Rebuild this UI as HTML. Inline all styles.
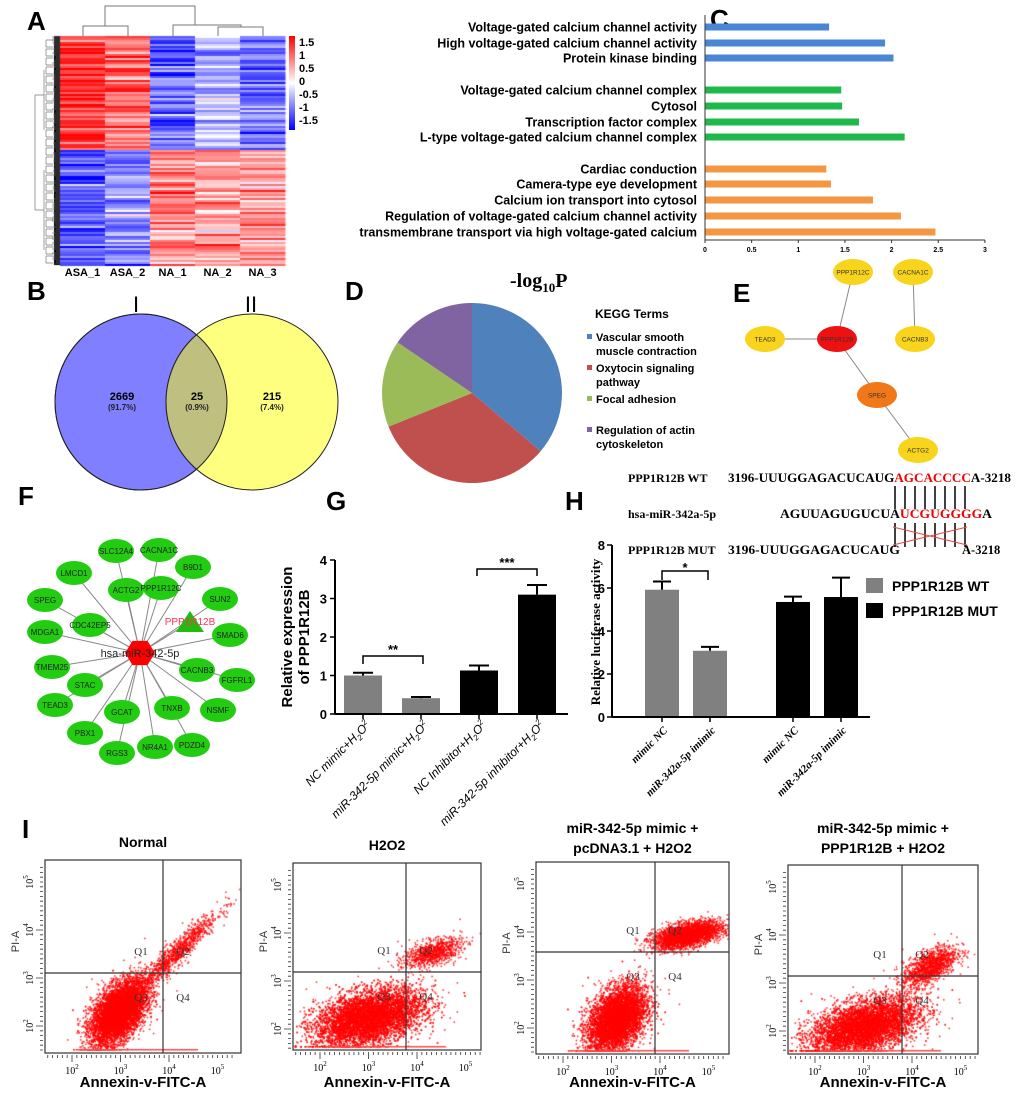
<!DOCTYPE html>
<html><head><meta charset="utf-8"><style>
html,body{margin:0;padding:0;background:#fff;}
#wrap{position:relative;width:1020px;height:1099px;overflow:hidden;font-family:"Liberation Sans",Arial,sans-serif;}
canvas{position:absolute;left:0;top:0;}
svg{position:absolute;left:0;top:0;}
</style></head><body>
<div id="wrap">
<canvas id="cv" width="1020" height="1099"></canvas>
<svg id="sv" width="1020" height="1099" xmlns="http://www.w3.org/2000/svg" font-family="Liberation Sans, Arial, sans-serif"></svg>
</div>
<script>
// ---------- Panel C data ----------
const goTerms=["Voltage-gated calcium channel activity","High voltage-gated calcium channel activity","Protein kinase binding","Voltage-gated calcium channel complex","Cytosol","Transcription factor complex","L-type voltage-gated calcium channel complex","Cardiac conduction","Camera-type eye development","Calcium ion transport into cytosol","Regulation of voltage-gated calcium channel activity","transmembrane transport via high voltage-gated calcium"];
const goValues=[1.33,1.93,2.02,1.46,1.47,1.65,2.14,1.30,1.35,1.80,2.10,2.47];
const goGroup=[0,0,0,1,1,1,1,2,2,2,2,2];
const goTicks=[0,0.5,1,1.5,2,2.5,3];
// ---------- Panel D data ----------
const keggTerms=["Vascular smooth muscle contraction","Oxytocin signaling pathway","Focal adhesion","Regulation of actin cytoskeleton"];
const keggValues=[36.2,32.7,15.6,15.5];
// ---------- Panel G data ----------
const gCats=["NC mimic+H","miR-342-5p mimic+H","NC Inhibitor+H","miR-342-5p inhibitor+H"];
const gValues=[1.0,0.41,1.13,3.1];
const gErrors=[0.07,0.03,0.13,0.25];
const gTicks=[0,1,2,3,4];
// ---------- Panel H data ----------
const hCats=["mimic NC","miR-342a-5p imimic","mimic NC","miR-342a-5p imimic"];
const hValues=[5.92,3.08,5.35,5.58];
const hErrors=[0.38,0.18,0.25,0.9];
const hTicks=[0,2,4,6,8];
// ---------- Panel A block means (rows cluster x sample) ----------
const hmSamples=["ASA_1","ASA_2","NA_1","NA_2","NA_3"];
const hmTopMeans=[1.2,0.9,-0.9,-0.5,-0.9];
const hmBottomMeans=[-1.0,-0.7,0.7,0.7,0.6];
const hmTicks=["1.5","1","0.5","0","-0.5","-1","-1.5"];

const NS="http://www.w3.org/2000/svg";
const sv=document.getElementById('sv');
const ctx=document.getElementById('cv').getContext('2d');
function el(tag,attrs,parent,text){const e=document.createElementNS(NS,tag);for(const k in attrs)e.setAttribute(k,attrs[k]);if(text!==undefined)e.textContent=text;(parent||sv).appendChild(e);return e;}
function txt(x,y,s,size,opts,parent){opts=opts||{};const a={x:x,y:y,'font-size':size,fill:opts.fill||'#000'};if(opts.bold)a['font-weight']='bold';if(opts.anchor)a['text-anchor']=opts.anchor;if(opts.family)a['font-family']=opts.family;if(opts.style)a['font-style']=opts.style;if(opts.transform)a.transform=opts.transform;if(opts.tl){a.textLength=opts.tl;a.lengthAdjust='spacingAndGlyphs';}return el('text',a,parent,s);}
let seed=12345;function rnd(){seed=(seed*1103515245+12345)&0x7fffffff;return seed/0x7fffffff;}
function gauss(){let u=rnd()||1e-6,v=rnd();return Math.sqrt(-2*Math.log(u))*Math.cos(2*Math.PI*v);}

[["A",27,30],["B",27,300],["C",710,28],["D",345,300],["E",733,302],["F",18,505],["G",326,510],["H",565,510],["I",22,838]].forEach(p=>{const t=txt(p[1],p[2],p[0],26,{bold:true});});

// ================= Panel A heatmap =================
(function(){
 const L=60,T=36,W=225,H=229,split=150;
 function col(v){v=Math.max(-1.6,Math.min(1.6,v))/1.6;let r,gg,b;if(v>=0){r=255;gg=b=Math.round(255*(1-v));}else{b=255;r=gg=Math.round(255*(1+v));}return `rgb(${r},${gg},${b})`;}
 const cw=W/hmSamples.length;
 for(let y=T;y<T+H;y+=2){
  const top=y<split;
  for(let c=0;c<5;c++){
   const m=(top?hmTopMeans:hmBottomMeans)[c];
   const v=m+gauss()*0.35;
   ctx.fillStyle=col(v);ctx.fillRect(L+c*cw,y,cw+0.5,2);
  }
 }
 hmSamples.forEach((s,i)=>{const t=txt(L+cw*i+cw/2,276,s,11,{bold:true,anchor:'middle'});});
 const grad=el('linearGradient',{id:'cb',x1:0,y1:0,x2:0,y2:1},el('defs',{},sv));
 el('stop',{offset:'0',"stop-color":'#ff0000'},grad);el('stop',{offset:'0.5',"stop-color":'#ffffff'},grad);el('stop',{offset:'1',"stop-color":'#0000ff'},grad);
 const cb=el('rect',{x:289,y:36,width:6,height:94,fill:'url(#cb)'},sv);
 hmTicks.forEach((s,i)=>{const t=txt(299,46+i*13,s,11,{bold:true});});
 const dg=el('g',{stroke:'#777','stroke-width':1,fill:'none'},sv);
 el('path',{d:'M83,36V26H128V36 M105,26V6H195V25 M173,36V25H241V27 M218,36V27H263V36'},dg);
 const lg=el('g',{stroke:'#777','stroke-width':0.7,fill:'none'},sv);
 let d='M35,95V210 M35,95H44 M35,210H44 M44,70V130 M44,170V250';
 for(let y=37;y<265;y+=2){d+=` M${52+rnd()*4},${y}H60`;}
 for(let y=40;y<265;y+=9){d+=` M46,${y}V${y+7} M46,${y}H53 M46,${y+7}H53`;}
 el('path',{d:d},lg);
 ctx.fillStyle='#000';ctx.fillRect(54,36,6,229);
})();

// ================= Panel C =================
(function(){
 const x0=705,xs=93.3,colors=['#4a86d6','#1fb84a','#f59640'];
 const ys=[27,43,58,90,106,122,137,169,184,200,216,232];
 const g=el('g',{},sv);
 const X=v=>x0+v*xs;
 goValues.forEach((v,i)=>{const r=el('rect',{x:X(0),y:ys[i]-3.5,width:X(v)-X(0),height:7,fill:colors[goGroup[i]]},g);
  const t=txt(697,ys[i]+4.5,goTerms[i],12.5,{bold:true,anchor:'end'},g);});
 el('line',{x1:x0,y1:15,x2:x0,y2:240,stroke:'#333','stroke-width':1},g);
 el('line',{x1:x0,y1:240,x2:X(3),y2:240,stroke:'#333','stroke-width':1},g);
 goTicks.forEach(t=>{el('line',{x1:X(t),y1:240,x2:X(t),y2:243,stroke:'#333'},g);const tt=txt(X(t),252,String(t),7,{bold:true,anchor:'middle'},g);});
})();

// ================= Panel B Venn =================
(function(){
 const g=el('g',{},sv);
 const c1=el('ellipse',{cx:141,cy:402,rx:86,ry:88,fill:'#7f7fff',stroke:'#222','stroke-width':1},g);
 const c2=el('ellipse',{cx:252,cy:402,rx:86,ry:88,fill:'#ffff7f',stroke:'#222','stroke-width':1},g);
 const cp=el('clipPath',{id:'cl1'},el('defs',{},g));
 el('ellipse',{cx:141,cy:402,rx:86,ry:88},cp);
 el('ellipse',{cx:252,cy:402,rx:86,ry:88,fill:'#bfbf7f',stroke:'#222','stroke-width':1,'clip-path':'url(#cl1)'},g);
 el('ellipse',{cx:141,cy:402,rx:86,ry:88,fill:'none',stroke:'#222','stroke-width':1},g);
 [["2669","(91.7%)",122],["25","(0.9%)",197],["215","(7.4%)",272]].forEach(a=>{txt(a[2],400,a[0],11,{bold:true,anchor:'middle'},g);txt(a[2],410,a[1],8,{bold:true,anchor:'middle',fill:'#222'},g);});
 txt(136,312,"I",22,{anchor:'middle'},g);txt(251,312,"II",22,{anchor:'middle'},g);
})();

// ================= Panel D pie =================
(function(){
 const cx=472,cy=393,r=90,cols=['#4f81bd','#c0504d','#9bbb59','#8064a2'];
 const g=el('g',{},sv);
 const tot=keggValues.reduce((a,b)=>a+b,0);let a0=0;
 keggValues.forEach((v,i)=>{const a1=a0+v/tot*2*Math.PI;const p=(a)=>[cx+r*Math.sin(a),cy-r*Math.cos(a)];const s=p(a0),e=p(a1);
  const path=el('path',{d:`M${cx},${cy}L${s[0]},${s[1]}A${r},${r} 0 ${a1-a0>Math.PI?1:0} 1 ${e[0]},${e[1]}Z`,fill:cols[i]},g);a0=a1;});
 const t=el('text',{x:510,y:287,'font-size':20,'font-weight':'bold','font-family':'Liberation Serif, serif'},g);t.innerHTML='-log<tspan font-size="13" dy="5">10</tspan><tspan dy="-5">P</tspan>';
 txt(595,318,"KEGG Terms",12,{bold:true},g);
 const lines=[["Vascular smooth","muscle contraction"],["Oxytocin signaling","pathway"],["Focal adhesion"],["Regulation of actin","cytoskeleton"]];
 const ly=[341,372,403,434];
 lines.forEach((l,i)=>{const sq=el('rect',{x:587,y:ly[i]-7,width:5,height:5,fill:cols[i]},g);l.forEach((s,j)=>txt(596,ly[i]+j*14,s,11,{bold:true},g));});
})();

// ================= Panel E network =================
(function(){
 const g=el('g',{},sv);
 const N={PPP1R12C:[853,272,'#f8d41c'],CACNA1C:[913,272,'#f8d41c'],TEAD3:[765,339,'#f8d41c'],PPP1R12B:[837,339,'#ee1111'],CACNB3:[915,339,'#f8d41c'],SPEG:[877,395,'#f07818'],ACTG2:[918,450,'#f8d41c']};
 [["PPP1R12C","PPP1R12B"],["CACNA1C","CACNB3"],["TEAD3","PPP1R12B"],["PPP1R12B","SPEG"],["SPEG","ACTG2"]].forEach(e=>el('line',{x1:N[e[0]][0],y1:N[e[0]][1],x2:N[e[1]][0],y2:N[e[1]][1],stroke:'#888'},g));
 for(const k in N){const n=el('ellipse',{cx:N[k][0],cy:N[k][1],rx:20,ry:13,fill:N[k][2]},g);txt(N[k][0],N[k][1]+2.5,k,6.5,{anchor:'middle',fill:'#333'},g);}
})();

// ================= Panel F star network =================
(function(){
 const g=el('g',{},sv);
 const hub=[140,653];
 const nodes=[["SLC12A4",116,551],["CACNA1C",159,550],["B9D1",193,567],["LMCD1",74,573],["ACTG2",126,590],["PPP1R12C",161,588],["SUN2",220,599],["SPEG",45,600],["CDC42EP5",90,625],["SMAD6",230,635],["MDGA1",45,632],["TMEM25",52,667],["CACNB3",197,670],["FGFRL1",237,680],["STAC",85,685],["TEAD3",55,705],["GCAT",122,712],["TNXB",172,708],["NSMF",218,710],["PBX1",85,733],["RGS3",117,753],["NR4A1",155,747],["PDZD4",192,745]];
 nodes.forEach(n=>el('line',{x1:hub[0],y1:hub[1],x2:n[1],y2:n[2],stroke:'#888','stroke-width':1},g));
 el('line',{x1:hub[0],y1:hub[1],x2:190,y2:622,stroke:'#888'},g);
 nodes.forEach(n=>{const e=el('ellipse',{cx:n[1],cy:n[2],rx:18,ry:12,fill:'#22cc11'},g);txt(n[1],n[2]+3,n[0],8,{anchor:'middle',fill:'#222'},g);});
 const tri=el('polygon',{points:'190,611 176,632 204,632',fill:'#22bb11'},g);
 txt(190,625,"PPP1R12B",10,{anchor:'middle',fill:'#ff3355'},g);
 const pts=[];for(let i=0;i<6;i++){const a=Math.PI/3*i;pts.push((hub[0]+15*Math.cos(a))+','+(hub[1]+14*Math.sin(a)));}
 const hx=el('polygon',{points:pts.join(' '),fill:'#ff0000'},g);
 txt(hub[0],hub[1]+4,"hsa-miR-342-5p",11,{anchor:'middle',fill:'#222'},g);
})();

// ================= Panel G bar chart =================
(function(){
 const g=el('g',{},sv);
 const ax=335,y0=714,y4=560;const Y=v=>y0-(y0-y4)*v/4;const cx=[363,421,479,537];const fills=['#808080','#808080','#000','#000'];
 gValues.forEach((v,i)=>{const b=el('rect',{x:cx[i]-19,y:Y(v),width:38,height:Y(0)-Y(v),fill:fills[i]},g);
  el('path',{d:`M${cx[i]},${Y(v)}V${Y(v+gErrors[i])}M${cx[i]-10},${Y(v+gErrors[i])}H${cx[i]+10}`,stroke:'#000','stroke-width':2},g);
  el('line',{x1:cx[i],y1:y0,x2:cx[i],y2:y0+5,stroke:'#000','stroke-width':1.5},g);
  const t=el('text',{x:cx[i]+8,y:y0+12,'font-size':12,'font-style':'italic','text-anchor':'end',transform:`rotate(-45 ${cx[i]+8} ${y0+12})`},g);t.innerHTML=gCats[i]+'<tspan font-size="8" dy="3">2</tspan><tspan dy="-3">O</tspan><tspan font-size="8" dy="-5">2</tspan>';});
 el('line',{x1:ax,y1:y4,x2:ax,y2:y0,stroke:'#000','stroke-width':2},g);el('line',{x1:ax,y1:y0,x2:568,y2:y0,stroke:'#000','stroke-width':2},g);
 gTicks.forEach(t=>{el('line',{x1:ax-5,y1:Y(t),x2:ax,y2:Y(t),stroke:'#000','stroke-width':1.5},g);txt(ax-8,Y(t)+5,String(t),13,{bold:true,anchor:'end'},g);});
 txt(292,637,"Relative expression",15,{bold:true,anchor:'middle',transform:'rotate(-90 292 637)'},g);
 txt(309,637,"of PPP1R12B",15,{bold:true,anchor:'middle',transform:'rotate(-90 309 637)'},g);
 el('path',{d:'M363,664V656H423V664',stroke:'#000','stroke-width':1.5,fill:'none'},g);txt(393,654,"**",13,{bold:true,anchor:'middle'},g);
 el('path',{d:'M477,576V569H537V576',stroke:'#000','stroke-width':1.5,fill:'none'},g);txt(507,567,"***",13,{bold:true,anchor:'middle'},g);
})();

// ================= Panel H =================
(function(){
 const g=el('g',{},sv);
 const SF='Liberation Serif, serif';
 [[628,482,"PPP1R12B WT"],[628,518,"hsa-miR-342a-5p"],[628,554,"PPP1R12B MUT"]].forEach(s=>txt(s[0],s[1],s[2],12,{family:SF,bold:true},g));
 let t=el('text',{x:728,y:482,'font-size':12.5,'font-weight':'bold','font-family':SF,textLength:283,lengthAdjust:'spacingAndGlyphs'},g);t.innerHTML='3196-UUUGGAGACUCAUG<tspan fill="#e00">AGCACCCC</tspan>A-3218';
 t=el('text',{x:780,y:518,'font-size':12.5,'font-weight':'bold','font-family':SF,textLength:212,lengthAdjust:'spacingAndGlyphs'},g);t.innerHTML='AGUUAGUGUCUA<tspan fill="#e00">UCGUGGGG</tspan>A';
 txt(728,554,"3196-UUUGGAGACUCAUG",12.5,{family:SF,bold:true,tl:172},g);txt(962,554,"A-3218",12.5,{family:SF,bold:true},g);
 let d='';for(let i=0;i<8;i++){const x=895+i*10;d+=`M${x},486V509M${x},523V547`;}
 el('path',{d:d,stroke:'#000','stroke-width':1.5},g);
 el('path',{d:'M893,527L967,545M893,545L967,527',stroke:'#e44','stroke-width':1},g);
 const ax=612,y0=717,y8=545;const Y=v=>y0-(y0-y8)*v/8;const cx=[662,710,793,841];const fills=['#808080','#808080','#000','#000'];
 hValues.forEach((v,i)=>{const b=el('rect',{x:cx[i]-17,y:Y(v),width:34,height:Y(0)-Y(v),fill:fills[i]},g);
  el('path',{d:`M${cx[i]},${Y(v)}V${Y(v+hErrors[i])}M${cx[i]-9},${Y(v+hErrors[i])}H${cx[i]+9}`,stroke:'#000','stroke-width':2},g);
  el('line',{x1:cx[i],y1:y0,x2:cx[i],y2:y0+5,stroke:'#000','stroke-width':1.5},g);
  const tt=txt(cx[i]+6,y0+14,hCats[i],11,{family:SF,style:'italic',bold:true,anchor:'end',transform:`rotate(-45 ${cx[i]+6} ${y0+14})`},g);});
 el('line',{x1:ax,y1:y8,x2:ax,y2:y0,stroke:'#000','stroke-width':2},g);el('line',{x1:ax,y1:y0,x2:870,y2:y0,stroke:'#000','stroke-width':2},g);
 hTicks.forEach(t=>{el('line',{x1:ax-5,y1:Y(t),x2:ax,y2:Y(t),stroke:'#000','stroke-width':1.5},g);txt(ax-7,Y(t)+5,String(t),13,{bold:true,anchor:'end'},g);});
 txt(600,632,"Relative luciferase activity",13,{family:SF,bold:true,anchor:'middle',transform:'rotate(-90 600 632)'},g);
 el('path',{d:'M662,580V571H708V580',stroke:'#000','stroke-width':1.5,fill:'none'},g);txt(685,572,"*",13,{bold:true,anchor:'middle'},g);
 [[578,'#808080',"PPP1R12B WT"],[603,'#000',"PPP1R12B MUT"]].forEach(l=>{const r=el('rect',{x:866,y:l[0],width:17,height:15,fill:l[1]},g);txt(892,l[0]+13,l[2],14,{bold:true},g);});
})();

// ================= Panel I flow plots =================
(function(){
 const boxes=[{L:45,T:860,R:241,B:1053,vx:163,hy:973,title:["Normal"],ty:[847]},
  {L:293,T:863,R:481,B:1050,vx:406,hy:972,title:["H2O2"],ty:[850]},
  {L:536,T:862,R:729,B:1054,vx:655,hy:952,title:["miR-342-5p mimic +","pcDNA3.1  +  H2O2"],ty:[833,853]},
  {L:788,T:865,R:978,B:1054,vx:902,hy:976,title:["miR-342-5p mimic +","PPP1R12B +  H2O2"],ty:[833,853]}];
 const clouds=[[[2.95,2.3,0.28,0.33,0.5,7000],[4.1,3.5,0.45,0.45,0.95,1100]],
  [[3.0,2.25,0.55,0.3,0.4,7500],[4.3,3.6,0.3,0.15,0.5,900]],
  [[3.1,2.2,0.3,0.35,0.4,6500],[4.55,3.95,0.35,0.14,0.5,3000]],
  [[3.0,2.1,0.55,0.3,0.45,6500],[4.35,3.35,0.28,0.22,0.6,1300]]];
 boxes.forEach((b,bi)=>{
  const g=el('g',{},sv);
  const X=k=>b.L+27+(k-2)*48.5, Y=k=>b.T+22+(5-k)*48;
  ctx.fillStyle='rgba(255,0,0,0.85)';
  clouds[bi].forEach(c=>{for(let i=0;i<c[5];i++){const u=gauss(),v=gauss();const lx=c[0]+c[2]*u;const ly=c[1]+c[3]*(c[4]*u+Math.sqrt(1-c[4]*c[4])*v);let px=X(lx),py=Y(ly);if(py>b.B-4)py=b.B-4;if(px<b.L+1||px>b.R-1||py<b.T+1)continue;ctx.fillRect(px,py,1.5,1.5);}});
  ctx.fillStyle='#f44';ctx.fillRect(X(2.1),b.B-4,X(4.6)-X(2.1),1.5);
  el('rect',{x:b.L,y:b.T,width:b.R-b.L,height:b.B-b.T,fill:'none',stroke:'#333','stroke-width':1.2},g);
  el('line',{x1:b.vx,y1:b.T,x2:b.vx,y2:b.B,stroke:'#333','stroke-width':1.2},g);
  el('line',{x1:b.L,y1:b.hy,x2:b.R,y2:b.hy,stroke:'#333','stroke-width':1.2},g);
  [["Q1",-22,-18],["Q2",20,-18],["Q3",-22,28],["Q4",20,28]].forEach(q=>txt(b.vx+q[1],b.hy+q[2],q[0],11,{family:'Liberation Serif, serif',anchor:'middle',fill:'#333'},g));
  let d='';for(let k=1.5;k<=5.3;k+=0.1){const fr=Math.round((k%1)*10)/10;const big=fr===0;const x=X(k);if(x>b.L&&x<b.R)d+=`M${x},${b.B+2}V${b.B+(big?9:5)}`;const y=Y(k);if(y>b.T&&y<b.B)d+=`M${b.L-2},${y}H${b.L-(big?9:5)}`;}
  el('path',{d:d,stroke:'#333','stroke-width':0.8},g);
  [2,3,4,5].forEach(k=>{let t=el('text',{x:X(k),y:b.B+21,'font-size':10,'text-anchor':'middle','font-family':'Liberation Serif, serif'},g);t.innerHTML='10<tspan font-size="7" dy="-5">'+k+'</tspan>';
   const yy=Y(k);t=el('text',{x:b.L-12,y:yy,'font-size':10,'text-anchor':'middle','font-family':'Liberation Serif, serif',transform:`rotate(-90 ${b.L-12} ${yy})`},g);t.innerHTML='10<tspan font-size="7" dy="-5">'+k+'</tspan>';});
  txt(b.L-26,b.T+(b.B-b.T)/2-15,"PI-A",11,{anchor:'middle',transform:`rotate(-90 ${b.L-26} ${b.T+(b.B-b.T)/2-15})`,fill:'#333'},g);
  const ax=txt((b.L+b.R)/2,1087,"Annexin-v-FITC-A",15,{bold:true,anchor:'middle'},g);
  b.title.forEach((s,i)=>{const t=txt((b.L+b.R)/2,b.ty[i],s,14,{bold:true,anchor:'middle'},g);});
 });
})();
</script>
</body></html>
